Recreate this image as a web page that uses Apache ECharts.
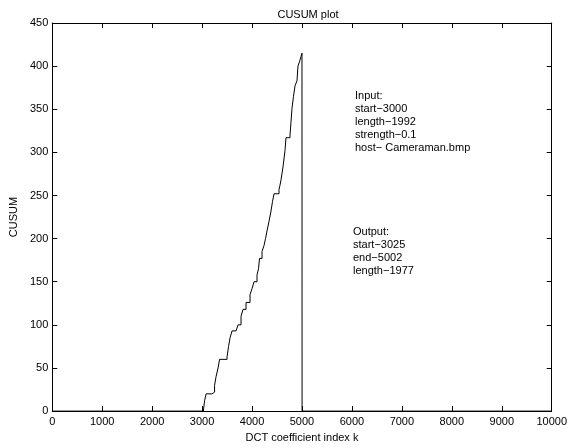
<!DOCTYPE html>
<html>
<head>
<meta charset="utf-8">
<script src="https://cdn.jsdelivr.net/npm/echarts@6/dist/echarts.min.js"></script>
<style>html,body{margin:0;padding:0;background:#fff}#c{width:570px;height:448px}</style>
</head>
<body>
<div id="c"></div>
<script>
// CUSUM step curve: coefficient index k and cumulative sum value
const kIndex = [0, 3025, 3050, 3080, 3200, 3250, 3280, 3320, 3350, 3500, 3530, 3560, 3600, 3680, 3720, 3780, 3820, 3880, 3960, 4000, 4040, 4100, 4130, 4150, 4200, 4240, 4270, 4300, 4340, 4380, 4410, 4440, 4540, 4560, 4580, 4620, 4660, 4680, 4760, 4780, 4800, 4830, 4860, 4900, 4920, 4950, 4980, 5000, 5002, 10000];
const cusum  = [0, 0,    12,   20,   22,   30,   40,   50,   60,   63,   75,   85,   93,   94,  100,  110,  118,  126,  135,  142,  150,  158,  165,  177,  185,  192,  200,  209,  220,  232,  243,  252,  257,  262,  268,  283,  302,  317,  320,  335,  351,  365,  377,  383,  400,  405,  411,  415,  0,    0];
const xTicks = [0, 1000, 2000, 3000, 4000, 5000, 6000, 7000, 8000, 9000, 10000];
const yTicks = [0, 50, 100, 150, 200, 250, 300, 350, 400, 450];
const inputText = ['Input:', 'start\u22123000', 'length\u22121992', 'strength\u22120.1', 'host\u2212 Cameraman.bmp'];
const outputText = ['Output:', 'start\u22123025', 'end\u22125002', 'length\u22121977'];

const FONT = 'Liberation Sans, Arial, Helvetica, sans-serif';
const chart = echarts.init(document.getElementById('c'), null, {renderer: 'canvas'});
const axisCommon = {
  axisLine: {show: true, onZero: false, lineStyle: {color: '#000', width: 1}},
  axisTick: {show: true, inside: true, length: 5, lineStyle: {color: '#000'}},
  splitLine: {show: false}
};
const plain = v => String(v);
chart.setOption({
  backgroundColor: '#fff',
  animation: false,
  title: {text: 'CUSUM plot', left: 303, top: 4, textAlign: 'center',
    textStyle: {fontFamily: FONT, fontSize: 11, fontWeight: 'normal', color: '#000'}},
  grid: {left: 52, right: 16, top: 23, bottom: 29, containLabel: false},
  xAxis: [
    Object.assign({type: 'value', min: xTicks[0], max: xTicks[xTicks.length - 1], interval: 1000,
      name: 'DCT coefficient index k', nameLocation: 'middle', nameGap: 17,
      nameTextStyle: {fontFamily: FONT, fontSize: 11, color: '#000'},
      axisLabel: {fontFamily: FONT, fontSize: 11, color: '#000', margin: 5, formatter: plain}}, axisCommon),
    Object.assign({type: 'value', position: 'top', min: xTicks[0], max: xTicks[xTicks.length - 1], interval: 1000,
      axisLabel: {show: false}}, axisCommon)
  ],
  yAxis: [
    Object.assign({type: 'value', min: yTicks[0], max: yTicks[yTicks.length - 1], interval: 50,
      name: 'CUSUM', nameLocation: 'middle', nameGap: 33,
      nameTextStyle: {fontFamily: FONT, fontSize: 11, color: '#000'},
      axisLabel: {fontFamily: FONT, fontSize: 11, color: '#000', margin: 4, formatter: plain}}, axisCommon),
    Object.assign({type: 'value', position: 'right', min: yTicks[0], max: yTicks[yTicks.length - 1], interval: 50,
      axisLabel: {show: false}}, axisCommon)
  ],
  series: [{
    type: 'line',
    step: 'end',
    showSymbol: false,
    symbol: 'none',
    data: kIndex.map((k, i) => [k, cusum[i]]),
    lineStyle: {color: '#000', width: 1},
    z: 1
  }],
  graphic: [
    {type: 'text', left: 355, top: 89, style: {text: inputText.join('\n'), font: '11px ' + FONT, fill: '#000', lineHeight: 13}},
    {type: 'text', left: 353, top: 225, style: {text: outputText.join('\n'), font: '11px ' + FONT, fill: '#000', lineHeight: 13}}
  ]
});
</script>
</body>
</html>
